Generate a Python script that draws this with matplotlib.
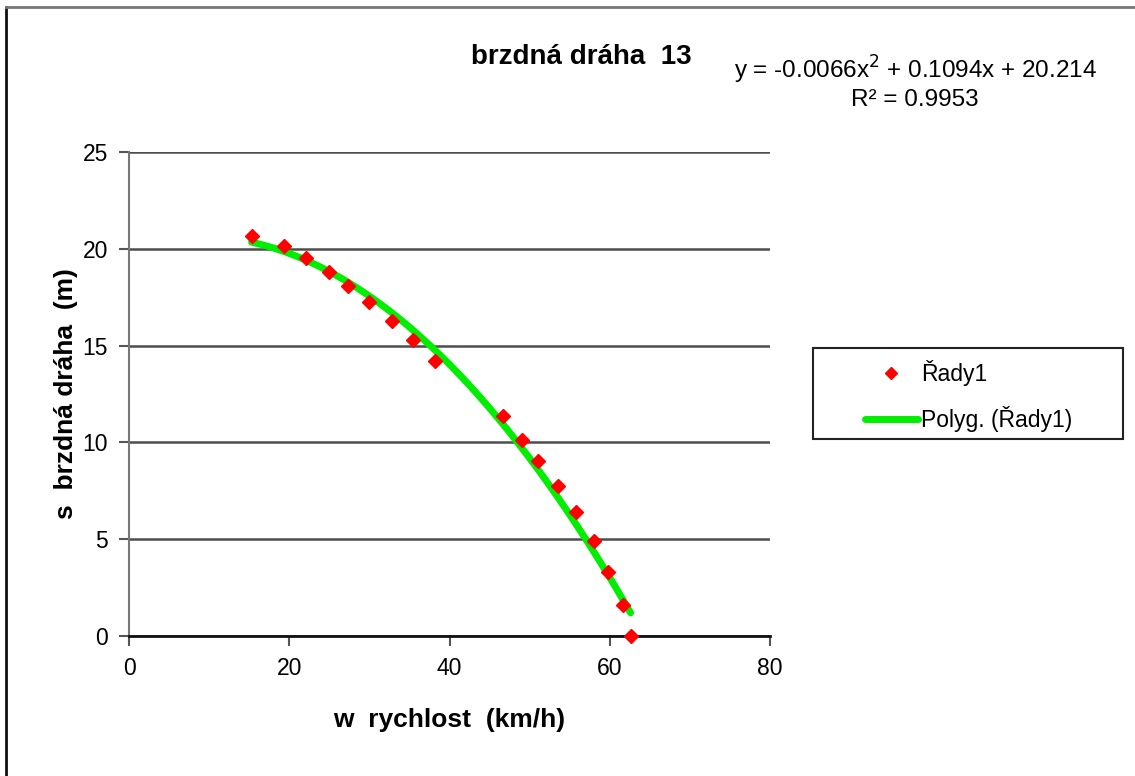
import numpy as np
import matplotlib.pyplot as plt
from matplotlib.lines import Line2D
from matplotlib.patches import Rectangle

plt.rcParams['font.family'] = ['Liberation Sans', 'DejaVu Sans']

# rychlost (km/h) a brzdná dráha (m)
rychlost = [15.3, 19.3, 22.1, 25.0, 27.3, 30.0, 32.8, 35.5, 38.2,
            46.7, 49.1, 51.1, 53.5, 55.8, 58.0, 59.8, 61.7, 62.6]
draha = [20.68, 20.16, 19.54, 18.82, 18.08, 17.24, 16.29, 15.29, 14.22,
         11.36, 10.12, 9.04, 7.75, 6.42, 4.91, 3.32, 1.60, 0.0]

# koeficienty polynomu z popisku trendu
koef = [-0.0066, 0.1094, 20.214]

W, H = 1135, 776
fig = plt.figure(figsize=(W / 100, H / 100), dpi=100)

# ramecek grafu - jen levy a horni okraj
fig.add_artist(Line2D([6 / W, 6 / W], [0, 1 - 7 / H], transform=fig.transFigure,
                      color='#111111', linewidth=2))
fig.add_artist(Line2D([6 / W, 1], [1 - 7 / H, 1 - 7 / H], transform=fig.transFigure,
                      color='#777777', linewidth=2))

ax = fig.add_axes([129 / W, 1 - 636 / H, 641 / W, 484 / H])

xs = np.linspace(min(rychlost), max(rychlost), 200)
ax.plot(xs, np.polyval(koef, xs), color='#00ee00', linewidth=5,
        solid_capstyle='round', label='Polyg. (Řady1)', zorder=3)
ax.plot(rychlost, draha, linestyle='none', marker='D', markersize=7.5,
        color='#ff0000', label='Řady1', zorder=4, clip_on=False)

ax.set_xlim(0, 80)
ax.set_ylim(0, 25)
ax.set_xticks([0, 20, 40, 60, 80])
ax.set_yticks([0, 5, 10, 15, 20, 25])
ax.yaxis.grid(True, color='#4d4d4d', linewidth=1.8)
ax.set_axisbelow(True)
for s in ['top', 'right']:
    ax.spines[s].set_visible(False)
ax.spines['left'].set_color('#777777')
ax.spines['left'].set_linewidth(1.5)
ax.spines['bottom'].set_color('#111111')
ax.spines['bottom'].set_linewidth(2)
ax.tick_params(labelsize=16.5, length=7, width=1.5, color='#555555', pad=8)

ax.set_xlabel('w  rychlost  (km/h)', fontsize=19, fontweight='bold')
ax.set_ylabel('s  brzdná dráha  (m)', fontsize=19, fontweight='bold')
ax.xaxis.set_label_coords(0.5, (636 - 708) / 484)
ax.yaxis.set_label_coords((78 - 129) / 641, 0.5)

fig.text(581 / W, 1 - 57 / H, 'brzdná dráha  13', fontsize=20,
         fontweight='bold', ha='center', va='center')
fig.text(915 / W, 1 - 70 / H, 'y = -0.0066x$^2$ + 0.1094x + 20.214',
         fontsize=17.5, ha='center', va='center')
fig.text(915 / W, 1 - 100 / H, 'R² = 0.9953', fontsize=17.5,
         ha='center', va='center')

# legenda
fig.patches.append(Rectangle((813 / W, 1 - 439 / H), 310 / W, 91 / H,
                             transform=fig.transFigure, fill=False,
                             edgecolor='#222222', linewidth=1.5))
h, l = ax.get_legend_handles_labels()
fig.legend(h[::-1], l[::-1], loc='center left',
           bbox_to_anchor=(865 / W, 1 - 396 / H),
           fontsize=16.5, frameon=False, handlelength=2.3,
           handletextpad=0.15, labelspacing=0.85, borderpad=0,
           borderaxespad=0, markerscale=0.8)

fig.savefig('out.png', dpi=100)
